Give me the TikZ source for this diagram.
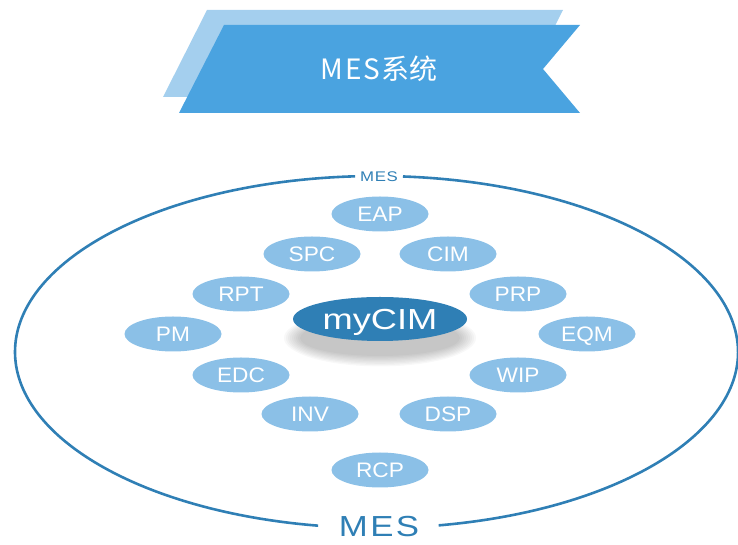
\documentclass[tikz,border=0pt]{standalone}
\usepackage{graphicx}
\usepackage{fontspec}
\setmainfont{Liberation Sans}
\newfontfamily\cjk{Noto Sans CJK SC}
\usetikzlibrary{shapes.geometric}
\definecolor{mesblue}{HTML}{2F7FB5}
\definecolor{bubblec}{HTML}{8BC0E7}
\definecolor{bannerfront}{HTML}{4AA3E0}
\definecolor{bannerback}{HTML}{A4CFEE}
\newcommand{\wide}[2]{\scalebox{#1}[1]{#2}}
\begin{document}
\begin{tikzpicture}[x=1pt,y=1pt,
  bubble/.style={ellipse, fill=bubblec, minimum width=97pt, minimum height=35pt,
    inner sep=0pt, text=white, font=\fontsize{21}{21}\selectfont,
    text height=15pt, text depth=0pt},
  core/.style={ellipse, fill=mesblue, minimum width=174pt, minimum height=44pt,
    inner sep=0pt, text=white, font=\fontsize{29}{29}\selectfont,
    text height=20.8pt, text depth=0pt},
  meslabel/.style={text=mesblue, inner sep=0pt, text depth=0pt},
  ring/.style={mesblue, line width=2.6pt}]
\useasboundingbox (0,0) rectangle (738,545);
% banner
\fill[bannerback] (207,535) -- (563,535) -- (519,448) -- (163,448) -- cycle;
\fill[bannerfront] (224,520) -- (580,520) -- (543,476) -- (580,432) -- (179,432) -- cycle;
\node[text=white, inner sep=0pt, font=\cjk\fontsize{28}{28}\selectfont] (title) at (379,476) {M\kern2pt E\kern2pt S\kern1pt 系统};
% outer ring
\coordinate (c) at (376.5,193);
\draw[ring] (c) ++(93.4:361.5 and 176) arc[start angle=93.4, end angle=260.7, x radius=361.5, y radius=176];
\draw[ring] (c) ++(279.9:361.5 and 176) arc[start angle=279.9, end angle=445.8, x radius=361.5, y radius=176];
\node[meslabel, text height=10pt, font=\fontsize{14}{14}\selectfont] (mestop) at (379,368) {\wide{1.2}{M\kern0.5pt E\kern0.5pt S}};
\node[meslabel, text height=21pt, font=\fontsize{29}{29}\selectfont] (mesbottom) at (379,18.5) {\wide{1.2}{M\kern2pt E\kern2pt S}};
% shadow
\foreach \k in {1,...,9} {
  \fill[black, opacity=0.026] (380,207) ellipse ({80+(9-\k)*2} and {18+(9-\k)*1.3});
}
\node[core] (mycim) at (380,226) {\wide{1.25}{myCIM}};
% bubbles
\node[bubble] (eap) at (380,331) {\wide{1.08}{EAP}};
\node[bubble] (spc) at (312,291) {\wide{1.08}{SPC}};
\node[bubble] (cim) at (448,291) {\wide{1.08}{CIM}};
\node[bubble] (rpt) at (241,251) {\wide{1.08}{RPT}};
\node[bubble] (prp) at (518,251) {\wide{1.08}{PRP}};
\node[bubble] (pm)  at (173,211) {\wide{1.08}{PM}};
\node[bubble] (eqm) at (587,211) {\wide{1.08}{EQM}};
\node[bubble] (edc) at (241,170) {\wide{1.08}{EDC}};
\node[bubble] (wip) at (518,170) {\wide{1.08}{WIP}};
\node[bubble] (inv) at (310,131) {\wide{1.08}{INV}};
\node[bubble] (dsp) at (448,131) {\wide{1.08}{DSP}};
\node[bubble] (rcp) at (380,75) {\wide{1.08}{RCP}};
\end{tikzpicture}
\end{document}
